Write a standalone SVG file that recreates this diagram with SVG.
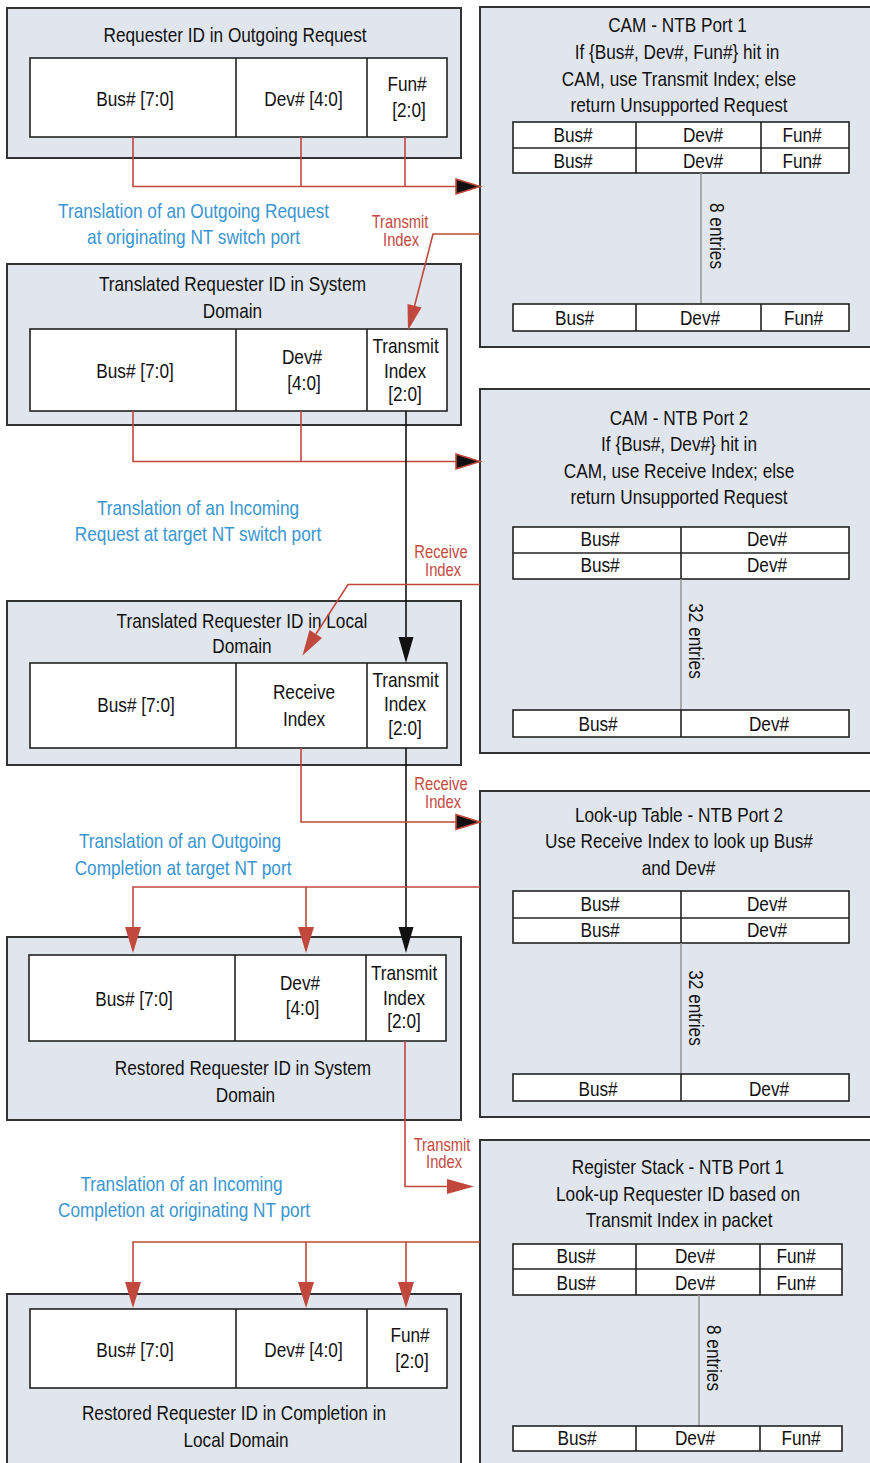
<svg xmlns="http://www.w3.org/2000/svg" width="870" height="1463" viewBox="0 0 870 1463">
  <style>
    .panel { fill: #e1e6ee; stroke: #333; stroke-width: 2; }
    .cell { fill: #fff; stroke: #222; stroke-width: 1.6; }
    .div { stroke: #222; stroke-width: 1.6; }
    .gline { stroke: #9a9a9a; stroke-width: 1.6; }
    .t { font-family: "Liberation Sans", Arial, sans-serif; font-size: 21px; fill: #111; text-anchor: middle;
         transform-box: fill-box; transform-origin: center; transform: scaleX(0.82); }
    .blue { fill: #3a96d2; }
    .redt { fill: #c44a3e; font-size: 18px; }
    .red { stroke: #c0483c; stroke-width: 1.6; fill: none; }
    .blk { stroke: #111; stroke-width: 1.6; fill: none; }
    .ah-red { fill: #c0483c; }
    .ah-dark { fill: #111; stroke: #c0483c; stroke-width: 1.6; }
    .ah-blk { fill: #111; }
  </style>

  <!-- Left column: requester ID formats -->
  <g id="req-outgoing">
    <rect class="panel" x="7" y="8" width="454" height="150"/>
    <text class="t" x="235" y="42">Requester ID in Outgoing Request</text>
    <rect class="cell" x="30" y="58" width="417" height="79"/>
    <line class="div" x1="236" y1="58" x2="236" y2="137"/>
    <line class="div" x1="367" y1="58" x2="367" y2="137"/>
    <text class="t" x="135" y="106">Bus# [7:0]</text>
    <text class="t" x="303.5" y="106">Dev# [4:0]</text>
    <text class="t" x="407" y="91">Fun#</text>
    <text class="t" x="409" y="117">[2:0]</text>
  </g>

  <g id="req-system">
    <rect class="panel" x="7" y="264" width="454" height="161"/>
    <text class="t" x="232.5" y="291">Translated Requester ID in System</text>
    <text class="t" x="232.5" y="318">Domain</text>
    <rect class="cell" x="30" y="329" width="417" height="82"/>
    <line class="div" x1="236" y1="329" x2="236" y2="411"/>
    <line class="div" x1="367" y1="329" x2="367" y2="411"/>
    <text class="t" x="135" y="378">Bus# [7:0]</text>
    <text class="t" x="302" y="364">Dev#</text>
    <text class="t" x="304" y="390">[4:0]</text>
    <text class="t" x="405.5" y="353">Transmit</text>
    <text class="t" x="405" y="378">Index</text>
    <text class="t" x="405" y="401">[2:0]</text>
  </g>

  <g id="req-local">
    <rect class="panel" x="7" y="601" width="454" height="164"/>
    <text class="t" x="242" y="628">Translated Requester ID in Local</text>
    <text class="t" x="242" y="653">Domain</text>
    <rect class="cell" x="30" y="663" width="417" height="85"/>
    <line class="div" x1="236" y1="663" x2="236" y2="748"/>
    <line class="div" x1="367" y1="663" x2="367" y2="748"/>
    <text class="t" x="136" y="712">Bus# [7:0]</text>
    <text class="t" x="304" y="699">Receive</text>
    <text class="t" x="304" y="726">Index</text>
    <text class="t" x="405.5" y="687">Transmit</text>
    <text class="t" x="405" y="711">Index</text>
    <text class="t" x="405" y="735">[2:0]</text>
  </g>

  <g id="cpl-system">
    <rect class="panel" x="7" y="937" width="454" height="183"/>
    <rect class="cell" x="29" y="955" width="417" height="86"/>
    <line class="div" x1="235" y1="955" x2="235" y2="1041"/>
    <line class="div" x1="366" y1="955" x2="366" y2="1041"/>
    <text class="t" x="134" y="1006">Bus# [7:0]</text>
    <text class="t" x="300" y="990">Dev#</text>
    <text class="t" x="302.5" y="1015">[4:0]</text>
    <text class="t" x="404" y="980">Transmit</text>
    <text class="t" x="404" y="1005">Index</text>
    <text class="t" x="404" y="1028">[2:0]</text>
    <text class="t" x="243" y="1075">Restored Requester ID in System</text>
    <text class="t" x="245.5" y="1102">Domain</text>
  </g>

  <g id="cpl-local">
    <rect class="panel" x="7" y="1294" width="454" height="180"/>
    <rect class="cell" x="30" y="1309" width="417" height="79"/>
    <line class="div" x1="236" y1="1309" x2="236" y2="1388"/>
    <line class="div" x1="367" y1="1309" x2="367" y2="1388"/>
    <text class="t" x="135" y="1357">Bus# [7:0]</text>
    <text class="t" x="303.5" y="1357">Dev# [4:0]</text>
    <text class="t" x="410" y="1342">Fun#</text>
    <text class="t" x="412" y="1368">[2:0]</text>
    <text class="t" x="234" y="1420">Restored Requester ID in Completion in</text>
    <text class="t" x="236" y="1447">Local Domain</text>
  </g>

  <!-- Right column: NTB lookup structures -->
  <g id="cam-port1">
    <rect class="panel" x="480" y="7" width="400" height="340"/>
    <text class="t" x="677.5" y="32">CAM - NTB Port 1</text>
    <text class="t" x="677" y="59">If {Bus#, Dev#, Fun#} hit in</text>
    <text class="t" x="679" y="86">CAM, use Transmit Index; else</text>
    <text class="t" x="679" y="112">return Unsupported Request</text>
    <rect class="cell" x="513" y="122" width="336" height="51"/>
    <line class="div" x1="513" y1="148" x2="849" y2="148"/>
    <line class="div" x1="636" y1="122" x2="636" y2="173"/>
    <line class="div" x1="761" y1="122" x2="761" y2="173"/>
    <text class="t" x="573" y="142">Bus#</text>
    <text class="t" x="703" y="142">Dev#</text>
    <text class="t" x="802" y="142">Fun#</text>
    <text class="t" x="573" y="168">Bus#</text>
    <text class="t" x="703" y="168">Dev#</text>
    <text class="t" x="802" y="168">Fun#</text>
    <line class="gline" x1="701" y1="173" x2="701" y2="304"/>
    <g transform="rotate(90 710 236)"><text class="t" x="710" y="236">8 entries</text></g>
    <rect class="cell" x="513" y="304" width="336" height="27"/>
    <line class="div" x1="636" y1="304" x2="636" y2="331"/>
    <line class="div" x1="761" y1="304" x2="761" y2="331"/>
    <text class="t" x="574.5" y="325">Bus#</text>
    <text class="t" x="700" y="325">Dev#</text>
    <text class="t" x="803.5" y="325">Fun#</text>
  </g>

  <g id="cam-port2">
    <rect class="panel" x="480" y="389" width="400" height="364"/>
    <text class="t" x="679" y="425">CAM - NTB Port 2</text>
    <text class="t" x="679" y="451">If {Bus#, Dev#} hit in</text>
    <text class="t" x="679" y="478">CAM, use Receive Index; else</text>
    <text class="t" x="679" y="504">return Unsupported Request</text>
    <rect class="cell" x="513" y="527" width="336" height="52"/>
    <line class="div" x1="513" y1="553" x2="849" y2="553"/>
    <line class="div" x1="681" y1="527" x2="681" y2="579"/>
    <text class="t" x="600" y="546">Bus#</text>
    <text class="t" x="767" y="546">Dev#</text>
    <text class="t" x="600" y="572">Bus#</text>
    <text class="t" x="767" y="572">Dev#</text>
    <line class="gline" x1="681" y1="579" x2="681" y2="710"/>
    <g transform="rotate(90 689 641)"><text class="t" x="689" y="641">32 entries</text></g>
    <rect class="cell" x="513" y="710" width="336" height="27"/>
    <line class="div" x1="681" y1="710" x2="681" y2="737"/>
    <text class="t" x="598" y="731">Bus#</text>
    <text class="t" x="769" y="731">Dev#</text>
  </g>

  <g id="lut-port2">
    <rect class="panel" x="480" y="791" width="400" height="326"/>
    <text class="t" x="679" y="822">Look-up Table - NTB Port 2</text>
    <text class="t" x="679" y="848">Use Receive Index to look up Bus#</text>
    <text class="t" x="678.5" y="875">and Dev#</text>
    <rect class="cell" x="513" y="891" width="336" height="52"/>
    <line class="div" x1="513" y1="918" x2="849" y2="918"/>
    <line class="div" x1="681" y1="891" x2="681" y2="943"/>
    <text class="t" x="600" y="911">Bus#</text>
    <text class="t" x="767" y="911">Dev#</text>
    <text class="t" x="600" y="937">Bus#</text>
    <text class="t" x="767" y="937">Dev#</text>
    <line class="gline" x1="681" y1="943" x2="681" y2="1074"/>
    <g transform="rotate(90 689 1008)"><text class="t" x="689" y="1008">32 entries</text></g>
    <rect class="cell" x="513" y="1074" width="336" height="27"/>
    <line class="div" x1="681" y1="1074" x2="681" y2="1101"/>
    <text class="t" x="598" y="1096">Bus#</text>
    <text class="t" x="769" y="1096">Dev#</text>
  </g>

  <g id="regstack-port1">
    <rect class="panel" x="480" y="1140" width="400" height="340"/>
    <text class="t" x="678" y="1174">Register Stack - NTB Port 1</text>
    <text class="t" x="678" y="1201">Look-up Requester ID based on</text>
    <text class="t" x="679" y="1227">Transmit Index in packet</text>
    <rect class="cell" x="513" y="1244" width="329" height="51"/>
    <line class="div" x1="513" y1="1269" x2="842" y2="1269"/>
    <line class="div" x1="636" y1="1244" x2="636" y2="1295"/>
    <line class="div" x1="760" y1="1244" x2="760" y2="1295"/>
    <text class="t" x="576" y="1263">Bus#</text>
    <text class="t" x="695" y="1263">Dev#</text>
    <text class="t" x="796" y="1263">Fun#</text>
    <text class="t" x="576" y="1290">Bus#</text>
    <text class="t" x="695" y="1290">Dev#</text>
    <text class="t" x="796" y="1290">Fun#</text>
    <line class="gline" x1="699" y1="1295" x2="699" y2="1426"/>
    <g transform="rotate(90 707 1358)"><text class="t" x="707" y="1358">8 entries</text></g>
    <rect class="cell" x="513" y="1426" width="329" height="25"/>
    <line class="div" x1="636" y1="1426" x2="636" y2="1451"/>
    <line class="div" x1="760" y1="1426" x2="760" y2="1451"/>
    <text class="t" x="577" y="1445">Bus#</text>
    <text class="t" x="695" y="1445">Dev#</text>
    <text class="t" x="801" y="1445">Fun#</text>
  </g>

  <!-- Step captions -->
  <g id="captions">
    <text class="t blue" x="193.5" y="218">Translation of an Outgoing Request</text>
    <text class="t blue" x="193.5" y="244">at originating NT switch port</text>
    <text class="t blue" x="198" y="515">Translation of an Incoming</text>
    <text class="t blue" x="198" y="541">Request at target NT switch port</text>
    <text class="t blue" x="180" y="848">Translation of an Outgoing</text>
    <text class="t blue" x="183" y="875">Completion at target NT port</text>
    <text class="t blue" x="181.5" y="1191">Translation of an Incoming</text>
    <text class="t blue" x="184" y="1217">Completion at originating NT port</text>
  </g>

  <!-- Connectors -->
  <g id="connectors">
    <!-- outgoing request ID into CAM port 1 -->
    <polyline class="red" points="133,137 133,186.5 456,186.5"/>
    <line class="red" x1="301" y1="137" x2="301" y2="186.5"/>
    <line class="red" x1="405" y1="137" x2="405" y2="186.5"/>
    <polygon class="ah-dark" points="456,179 480,186.5 456,194"/>

    <!-- transmit index from CAM port 1 -->
    <polyline class="red" points="480,234 433,234 414.5,306"/>
    <polygon class="ah-red" points="408,330.5 421.5,307.5 407.5,304"/>
    <text class="t redt" x="400" y="228">Transmit</text>
    <text class="t redt" x="401" y="246">Index</text>

    <!-- system-domain ID into CAM port 2 -->
    <polyline class="red" points="133,411 133,461.5 456,461.5"/>
    <line class="red" x1="301" y1="411" x2="301" y2="461.5"/>
    <polygon class="ah-dark" points="456,454 480,461.5 456,469"/>

    <!-- transmit index carried through -->
    <line class="blk" x1="406" y1="411" x2="406" y2="638"/>
    <polygon class="ah-blk" points="398.5,637 413.5,637 406,663"/>
    <line class="blk" x1="406" y1="748" x2="406" y2="928"/>
    <polygon class="ah-blk" points="398.5,927 413.5,927 406,953"/>

    <!-- receive index from CAM port 2 -->
    <polyline class="red" points="480,584.5 348,584.5 316,634"/>
    <polygon class="ah-red" points="302.5,655.5 322,638 309.5,630"/>
    <text class="t redt" x="441" y="558">Receive</text>
    <text class="t redt" x="443" y="576">Index</text>

    <!-- receive index into look-up table -->
    <polyline class="red" points="301,748 301,822 456,822"/>
    <polygon class="ah-dark" points="456,814.5 480,822 456,829.5"/>
    <text class="t redt" x="441" y="790">Receive</text>
    <text class="t redt" x="443" y="808">Index</text>

    <!-- restored bus/dev from look-up table -->
    <polyline class="red" points="480,887 133,887 133,928"/>
    <line class="red" x1="306" y1="887" x2="306" y2="928"/>
    <polygon class="ah-red" points="125,927 141,927 133,953"/>
    <polygon class="ah-red" points="298,927 314,927 306,953"/>

    <!-- transmit index into register stack -->
    <polyline class="red" points="405,1041 405,1186.5 448,1186.5"/>
    <polygon class="ah-red" points="447,1179 474,1186.5 447,1194"/>
    <text class="t redt" x="442" y="1151">Transmit</text>
    <text class="t redt" x="444" y="1168">Index</text>

    <!-- restored requester ID from register stack -->
    <polyline class="red" points="480,1242 133,1242 133,1283"/>
    <line class="red" x1="306" y1="1242" x2="306" y2="1283"/>
    <line class="red" x1="406" y1="1242" x2="406" y2="1283"/>
    <polygon class="ah-red" points="125,1282 141,1282 133,1308"/>
    <polygon class="ah-red" points="298,1282 314,1282 306,1308"/>
    <polygon class="ah-red" points="398,1282 414,1282 406,1308"/>
  </g>
</svg>
